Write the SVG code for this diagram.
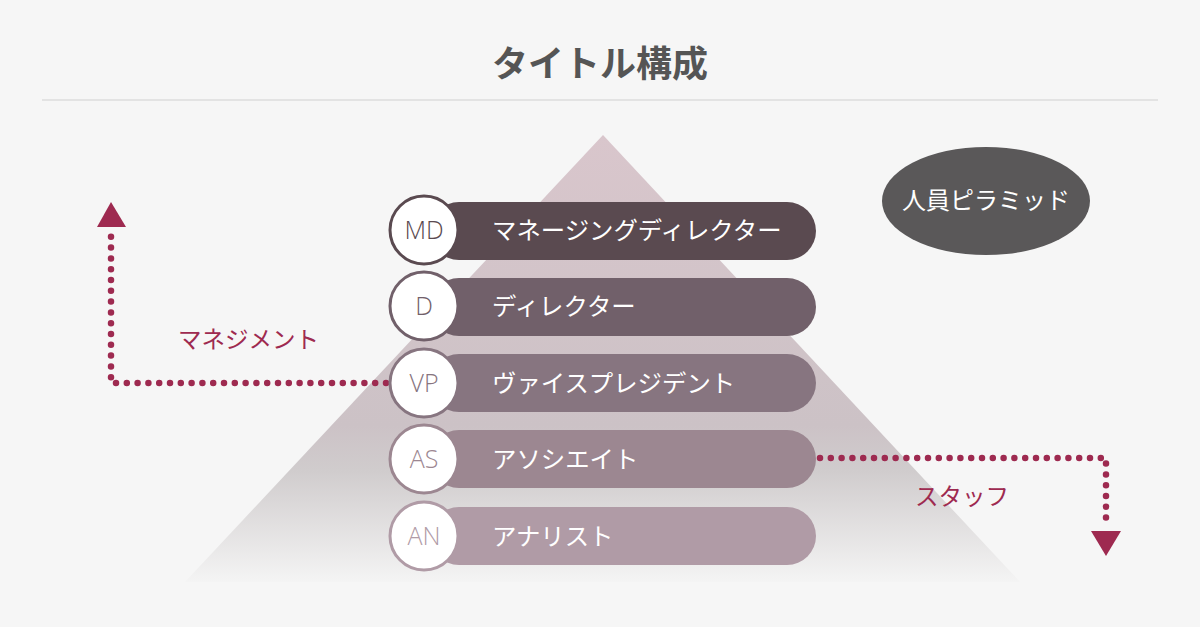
<svg xmlns="http://www.w3.org/2000/svg" width="1200" height="627" viewBox="0 0 1200 627">
<style>
text{font-family:"Noto Sans CJK JP","Noto Sans",sans-serif}
.title{font-size:36px;font-weight:bold;fill:#555}
.bar-t{font-size:24.4px;fill:#fff}
.abbr{font-family:"Open Sans","Noto Sans",sans-serif;font-size:25px;font-weight:300}
.lbl{font-size:23.5px;fill:#9e2a50}
.dots{fill:none;stroke:#9e2a50;stroke-width:6.5;stroke-linecap:round;stroke-dasharray:0 10.8}
.circ{fill:#fff;stroke-width:3}
</style>
<defs>
<linearGradient id="pg" x1="0" y1="135" x2="0" y2="582" gradientUnits="userSpaceOnUse">
<stop offset="0" stop-color="#d9c6cc"/>
<stop offset="0.65" stop-color="#ccc2c6"/>
<stop offset="0.75" stop-color="#d0cccd"/>
<stop offset="1" stop-color="#f4f4f4"/>
</linearGradient>
</defs>
<rect width="1200" height="627" fill="#f6f6f6"/>
<text class="title" x="600" y="77" text-anchor="middle">タイトル構成</text>
<line x1="42" y1="100" x2="1158" y2="100" stroke="#dcdcdc" stroke-width="1.5"/>
<polygon points="603,135 1020,582 185,582" fill="url(#pg)"/>
<g id="connectors">
<path class="dots" d="M386,383 H111 V232"/>
<polygon points="111,202 126,227 97,227" fill="#9e2a50"/>
<path class="dots" d="M820,458 H1106 V524"/>
<polygon points="1091,531 1121,531 1106,556" fill="#9e2a50"/>
</g>
<text class="lbl" x="178" y="348">マネジメント</text>
<text class="lbl" x="915" y="505">スタッフ</text>
<g id="legend">
<ellipse cx="986" cy="201" rx="104" ry="54" fill="#5a5859"/>
<text x="986" y="209" text-anchor="middle" font-size="24" fill="#fff">人員ピラミッド</text>
</g>
<g id="md">
<rect x="430" y="202" width="386" height="58" rx="29" fill="#5a4a50"/>
<circle class="circ" cx="424" cy="230" r="34" stroke="#5a4a50"/>
<text class="abbr" x="424" y="239" text-anchor="middle" fill="#5a4a50">MD</text>
<text class="bar-t" x="492" y="239">マネージングディレクター</text>
</g>
<g id="d">
<rect x="430" y="278" width="386" height="58" rx="29" fill="#71606a"/>
<circle class="circ" cx="424" cy="306" r="34" stroke="#71606a"/>
<text class="abbr" x="424" y="315" text-anchor="middle" fill="#71606a">D</text>
<text class="bar-t" x="492" y="315">ディレクター</text>
</g>
<g id="vp">
<rect x="430" y="354" width="386" height="58" rx="29" fill="#877580"/>
<circle class="circ" cx="424" cy="383" r="34" stroke="#877580"/>
<text class="abbr" x="424" y="392" text-anchor="middle" fill="#877580">VP</text>
<text class="bar-t" x="492" y="392">ヴァイスプレジデント</text>
</g>
<g id="as">
<rect x="430" y="430" width="386" height="58" rx="29" fill="#9c8791"/>
<circle class="circ" cx="424" cy="459" r="34" stroke="#9c8791"/>
<text class="abbr" x="424" y="468" text-anchor="middle" fill="#9c8791">AS</text>
<text class="bar-t" x="492" y="468">アソシエイト</text>
</g>
<g id="an">
<rect x="430" y="507" width="386" height="58" rx="29" fill="#b09ba6"/>
<circle class="circ" cx="424" cy="536" r="34" stroke="#b09ba6"/>
<text class="abbr" x="424" y="545" text-anchor="middle" fill="#b09ba6">AN</text>
<text class="bar-t" x="492" y="545">アナリスト</text>
</g>
</svg>
